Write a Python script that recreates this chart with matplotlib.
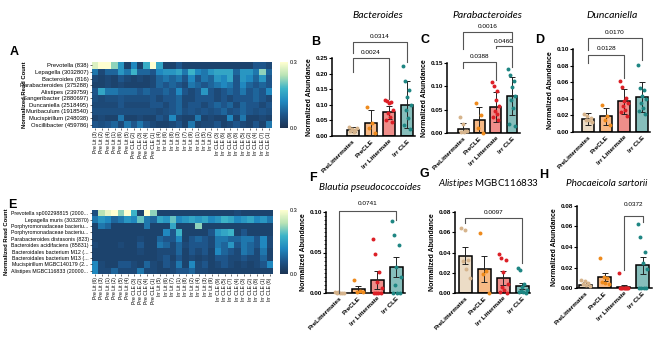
import numpy as np
import matplotlib.pyplot as plt
from matplotlib.colors import LinearSegmentedColormap
from matplotlib.ticker import MultipleLocator, FormatStrFormatter

plt.rcParams['font.family'] = ['Liberation Sans', 'DejaVu Sans']
plt.rcParams['mathtext.fontset'] = 'custom'
plt.rcParams['mathtext.it'] = 'Lato:italic'
plt.rcParams['mathtext.rm'] = 'Lato'

W, H = 669, 340

# ---------------- heatmap data (normalized read count, x100) ----------------
hm1_rows = ["Prevotella (838)", "Lepagella (3032807)", "Bacteroides (816)",
            "Parabacteroides (375288)", "Alistipes (239759)", "Sangeribacter (2880697)",
            "Duncaniella (2518495)", "Muribaculum (1918540)", "Mucispirillum (248038)",
            "Oscillibacter (459786)"]
hm1_cols = ["Pre Lit (3)", "Pre Lit (2)", "Pre Lit (4)", "Pre Lit (1)", "Pre Lit (6)", "Pre Lit (5)",
            "Pre CLE (2)", "Pre CLE (3)", "Pre CLE (4)", "Pre CLE (1)",
            "Irr Lit (4)", "Irr Lit (6)", "Irr Lit (8)", "Irr Lit (3)", "Irr Lit (7)", "Irr Lit (9)",
            "Irr Lit (1)", "Irr Lit (5)", "Irr Lit (2)",
            "Irr CLE (3)", "Irr CLE (6)", "Irr CLE (9)", "Irr CLE (8)", "Irr CLE (5)", "Irr CLE (2)",
            "Irr CLE (4)", "Irr CLE (7)", "Irr CLE (1)"]
hm1_vals = [
    [27, 30, 30, 22, 14, 3, 12, 3, 17, 30, 16, 3, 3, 6, 3, 3, 3, 3, 3, 3, 3, 3, 3, 3, 3, 6, 6, 4],
    [10, 4, 8, 8, 14, 10, 18, 8, 8, 6, 12, 14, 14, 16, 10, 18, 12, 10, 14, 16, 16, 16, 8, 14, 14, 10, 22, 8],
    [4, 3, 4, 3, 6, 4, 3, 4, 3, 4, 8, 10, 8, 10, 6, 12, 6, 10, 8, 14, 12, 16, 6, 14, 12, 8, 14, 6],
    [3, 3, 4, 3, 4, 3, 3, 3, 3, 4, 8, 6, 8, 6, 4, 10, 8, 6, 8, 10, 12, 10, 6, 12, 8, 6, 8, 6],
    [6, 16, 10, 10, 8, 8, 8, 6, 8, 6, 6, 8, 6, 12, 6, 4, 6, 14, 6, 4, 6, 8, 6, 10, 6, 8, 6, 12],
    [5, 4, 5, 5, 6, 5, 5, 5, 5, 6, 4, 6, 6, 8, 4, 4, 6, 6, 6, 4, 6, 4, 6, 6, 6, 8, 6, 4],
    [4, 4, 4, 4, 6, 4, 4, 4, 4, 6, 6, 4, 6, 8, 4, 6, 6, 4, 6, 8, 6, 8, 4, 8, 6, 6, 4, 6],
    [5, 5, 5, 5, 5, 5, 5, 5, 5, 5, 4, 5, 6, 8, 5, 6, 5, 6, 5, 6, 8, 5, 6, 8, 6, 5, 6, 5],
    [3, 4, 3, 3, 10, 3, 3, 4, 3, 3, 6, 4, 12, 4, 3, 3, 10, 3, 4, 3, 3, 12, 3, 10, 3, 3, 4, 3],
    [6, 5, 6, 8, 4, 10, 6, 10, 6, 4, 3, 3, 4, 6, 3, 10, 3, 4, 4, 6, 3, 4, 6, 4, 3, 6, 3, 10],
]

hm2_rows = ["Prevotella sp002298815 (2000...", "Lepagella muris (3032870)",
            "Porphyromonadaceae bacteriu...", "Porphyromonadaceae bacteriu...",
            "Parabacteroides distasonis (823)", "Bacteroides acidifaciens (85831)",
            "Bacteroidales bacterium M12 (...", "Bacteroidales bacterium M13 (...",
            "Mucispirillum MGBC140179 (2...", "Alistipes MGBC116833 (20000..."]
hm2_cols = ["Pre Lit (6)", "Pre Lit (3)", "Pre Lit (1)", "Pre Lit (2)", "Pre Lit (5)", "Pre Lit (4)",
            "Pre CLE (3)", "Pre CLE (2)", "Pre CLE (4)", "Pre CLE (1)",
            "Irr Lit (5)", "Irr Lit (6)", "Irr Lit (7)", "Irr Lit (1)", "Irr Lit (8)", "Irr Lit (2)",
            "Irr Lit (4)", "Irr Lit (3)", "Irr Lit (9)",
            "Irr CLE (9)", "Irr CLE (5)", "Irr CLE (7)", "Irr CLE (4)", "Irr CLE (3)", "Irr CLE (2)",
            "Irr CLE (8)", "Irr CLE (1)", "Irr CLE (6)"]
hm2_vals = [
    [5, 24, 28, 30, 22, 30, 18, 3, 30, 22, 3, 3, 3, 3, 3, 3, 3, 3, 3, 3, 3, 3, 4, 3, 3, 3, 3, 3],
    [10, 14, 12, 8, 10, 14, 12, 20, 10, 8, 16, 14, 20, 12, 14, 16, 14, 16, 12, 14, 18, 16, 12, 14, 16, 12, 14, 10],
    [3, 10, 8, 3, 3, 3, 3, 3, 10, 3, 3, 3, 16, 3, 3, 3, 22, 3, 3, 3, 3, 3, 3, 3, 3, 3, 3, 3],
    [3, 3, 3, 3, 3, 3, 3, 3, 3, 3, 3, 12, 6, 18, 3, 3, 3, 3, 6, 14, 16, 18, 3, 6, 3, 3, 3, 3],
    [3, 3, 3, 3, 3, 3, 3, 4, 3, 3, 8, 6, 6, 12, 3, 6, 8, 6, 4, 10, 10, 8, 8, 10, 10, 6, 12, 4],
    [4, 3, 3, 3, 4, 3, 3, 6, 3, 3, 10, 8, 4, 8, 4, 6, 6, 6, 4, 10, 8, 14, 6, 10, 8, 6, 12, 4],
    [3, 3, 3, 3, 3, 3, 3, 4, 3, 3, 4, 4, 4, 8, 3, 6, 4, 6, 3, 12, 8, 6, 4, 10, 8, 4, 10, 3],
    [3, 3, 3, 3, 3, 3, 3, 3, 3, 3, 4, 6, 3, 6, 3, 4, 3, 4, 3, 6, 6, 4, 4, 6, 4, 4, 8, 3],
    [12, 4, 3, 3, 6, 6, 4, 3, 8, 4, 3, 6, 4, 10, 3, 12, 4, 6, 3, 4, 6, 4, 3, 4, 3, 4, 6, 12],
    [12, 4, 4, 8, 4, 4, 4, 10, 4, 4, 3, 3, 4, 6, 6, 8, 4, 4, 3, 3, 3, 3, 3, 3, 3, 3, 3, 3],
]

# ---------------- bar panel data ----------------
groups = ["PreLittermates", "PreCLE", "Irr Littermate", "Irr CLE"]

bact_pts = [[0.028, 0.022, 0.018, 0.015, 0.012, 0.025], [0.094, 0.041, 0.025, 0.010],
            [0.116, 0.112, 0.110, 0.106, 0.084, 0.073, 0.060, 0.050, 0.046],
            [0.223, 0.177, 0.148, 0.125, 0.100, 0.084, 0.057, 0.035, 0.021]]
bact_mean = [0.020, 0.043, 0.076, 0.100]
bact_err = [0.008, 0.041, 0.021, 0.075]

para_pts = [[0.034, 0.020, 0.005, 0.003, 0.002, 0.004], [0.064, 0.039, 0.011, 0.001],
            [0.110, 0.101, 0.089, 0.071, 0.057, 0.048, 0.041, 0.034, 0.027],
            [0.137, 0.125, 0.111, 0.099, 0.079, 0.071, 0.054, 0.020, 0.016]]
para_mean = [0.0086, 0.027, 0.056, 0.079]
para_err = [0.012, 0.029, 0.032, 0.040]

dunc_pts = [[0.022, 0.019, 0.017, 0.015, 0.014, 0.012], [0.032, 0.019, 0.014, 0.008],
            [0.061, 0.054, 0.041, 0.037, 0.035, 0.031, 0.027, 0.024, 0.019],
            [0.081, 0.053, 0.050, 0.043, 0.040, 0.035, 0.029, 0.025, 0.022]]
dunc_mean = [0.016, 0.019, 0.037, 0.042]
dunc_err = [0.007, 0.010, 0.015, 0.018]

blau_pts = [[0.001, 0.0008, 0.0005, 0.0005, 0.0003, 0.0002], [0.016, 0.002, 0.001, 0.001],
            [0.067, 0.048, 0.026, 0.014, 0.006, 0.0, 0.0, 0.0, 0.0],
            [0.089, 0.071, 0.059, 0.032, 0.020, 0.010, 0.0, 0.0, 0.0]]
blau_mean = [0.0005, 0.005, 0.016, 0.032]
blau_err = [0.0003, 0.004, 0.011, 0.012]

alis_pts = [[0.064, 0.062, 0.033, 0.032, 0.024, 0.015], [0.059, 0.022, 0.019, 0.0],
            [0.039, 0.035, 0.033, 0.021, 0.009, 0.006, 0.003, 0.001, 0.0],
            [0.025, 0.023, 0.009, 0.006, 0.003, 0.002, 0.001, 0.001, 0.0]]
alis_mean = [0.037, 0.024, 0.015, 0.007]
alis_err = [0.008, 0.013, 0.007, 0.003]

phoc_pts = [[0.0075, 0.0065, 0.005, 0.004, 0.003, 0.0015], [0.029, 0.011, 0.010, 0.006, 0.005, 0.004],
            [0.015, 0.0, 0.0, 0.0, 0.0, 0.0, 0.0, 0.0, 0.0],
            [0.062, 0.050, 0.035, 0.024, 0.019, 0.0, 0.0, 0.0, 0.0]]
phoc_mean = [0.003, 0.011, 0.001, 0.022]
phoc_err = [0.0025, 0.004, 0.002, 0.008]

bar_fill = ["#ecdcc6", "#f7b985", "#ef8e8a", "#86bebb"]
dot_col = ["#d6b48c", "#ee8a1c", "#dc1f26", "#1e8683"]

fig = plt.figure(figsize=(W / 100, H / 100), dpi=100)


def box(x, y, w, h):
    return [x / W, 1 - (y + h) / H, w / W, h / H]


cmap = LinearSegmentedColormap.from_list(
    "hm", ["#1c3352", "#1e558a", "#2088bf", "#3db4c8", "#b9e3b5", "#ffffd0"])


def heatmap(rect, crect, vals, rows, cols, rsize):
    ax = fig.add_axes(box(*rect))
    im = ax.imshow(np.array(vals) / 100, cmap=cmap, vmin=0, vmax=0.3,
                   aspect='auto', interpolation='nearest')
    ax.set_yticks(range(len(rows)))
    ax.set_yticklabels(rows, fontsize=rsize)
    ax.set_xticks(range(len(cols)))
    ax.set_xticklabels(cols, fontsize=3.6, rotation=90)
    ax.tick_params(length=1.5, width=0.4, pad=1)
    for s in ax.spines.values():
        s.set_visible(False)
    cax = fig.add_axes(box(*crect))
    cb = fig.colorbar(im, cax=cax, ticks=[0, 0.3])
    cb.ax.set_yticklabels(["0.0", "0.3"], fontsize=4)
    cb.ax.tick_params(length=0, pad=1)
    cb.outline.set_visible(False)
    return ax


heatmap((92, 62, 180, 66), (280, 62, 8, 66), hm1_vals, hm1_rows, hm1_cols, 4.2)
heatmap((92, 210, 181, 64), (280, 210, 8, 64), hm2_vals, hm2_rows, hm2_cols, 3.8)
fig.text(25 / W, 1 - 95 / H, "Normalized Read Count", rotation=90, fontsize=4.2,
         fontweight='bold', ha='center', va='center')
fig.text(7 / W, 1 - 242 / H, "Normalized Read Count", rotation=90, fontsize=4.2,
         fontweight='bold', ha='center', va='center')


def bar_panel(rect, xlim, ylim, step, pts, mean, err, fmt='%.2f', minor=None):
    ax = fig.add_axes(box(*rect))
    x = np.arange(len(groups))
    ax.bar(x, mean, width=0.66, color=bar_fill, edgecolor='black', linewidth=1.1, zorder=2)
    ax.errorbar(x, mean, yerr=err, fmt='none', ecolor='#222222', elinewidth=0.7,
                capsize=2.2, capthick=0.7, zorder=3)
    for i, p in enumerate(pts):
        n = len(p)
        off = np.linspace(-0.22, 0.22, n) if n > 1 else np.zeros(1)
        off = off[np.argsort(np.arange(n) % 2)]
        ax.scatter(x[i] + off, p, s=8, color=dot_col[i], zorder=4, linewidths=0,
                   clip_on=False)
    ax.set_xlim(*xlim)
    ax.set_ylim(0, ylim)
    ax.yaxis.set_major_locator(MultipleLocator(step))
    ax.yaxis.set_major_formatter(FormatStrFormatter(fmt))
    if minor:
        ax.yaxis.set_minor_locator(MultipleLocator(minor))
        ax.tick_params(axis='y', which='minor', length=1.3, width=0.5)
    ax.set_xticks(x)
    ax.set_xticklabels(groups, rotation=45, ha='right', rotation_mode='anchor',
                       fontsize=4.6, fontweight='bold')
    ax.tick_params(axis='y', labelsize=4.6, length=2, width=0.8, pad=1)
    ax.tick_params(axis='x', length=0, pad=2)
    for lab in ax.get_yticklabels():
        lab.set_fontweight('bold')
    for s in ['top', 'right']:
        ax.spines[s].set_visible(False)
    for s in ['left', 'bottom']:
        ax.spines[s].set_linewidth(1.1)
    ax.set_ylabel("Normalized Abundance", fontsize=5, fontweight='bold', labelpad=2)
    return ax


def bracket(ax, i, j, y, yl, yr, txt, ty):
    ax.plot([i, i, j, j], [yl, y, y, yr], color='#555555', lw=0.8, clip_on=False, zorder=5)
    ax.text((i + j) / 2, ty, txt, ha='center', va='center', fontsize=4.6, clip_on=False)


def title(x, y, parts, size=7.5):
    fig.text(x / W, 1 - y / H, parts, ha='center', va='center', fontsize=size,
             family=['Lato', 'DejaVu Sans'], style='italic')


def letter(x, y, s):
    fig.text(x / W, 1 - y / H, s, ha='center', va='center', fontsize=9, fontweight='bold')


axB = bar_panel((332, 58, 83, 78), (-1.15, 3.45), 0.25, 0.05, bact_pts, bact_mean, bact_err)
bracket(axB, 0, 2, 0.25, 0.205, 0.12, "0.0024", 0.269)
bracket(axB, 0, 3, 0.30, 0.266, 0.237, "0.0314", 0.32)

axC = bar_panel((447, 63, 73, 70), (-1.0, 3.5), 0.15, 0.05, para_pts, para_mean, para_err)
bracket(axC, 0, 2, 0.153, 0.139, 0.113, "0.0388", 0.165)
bracket(axC, 2, 3, 0.187, 0.182, 0.142, "0.0460", 0.197)
bracket(axC, 0, 3, 0.217, 0.18, 0.195, "0.0016", 0.229)

axD = bar_panel((573, 49, 77, 83), (-0.85, 3.45), 0.10, 0.02, dunc_pts, dunc_mean, dunc_err)
bracket(axD, 0, 2, 0.093, 0.083, 0.065, "0.0128", 0.100)
bracket(axD, 0, 3, 0.113, 0.099, 0.087, "0.0170", 0.120)

axF = bar_panel((326, 212, 79, 81), (-0.7, 3.45), 0.10, 0.05, blau_pts, blau_mean, blau_err,
                minor=0.005)
bracket(axF, 0, 3, 0.101, 0.0, 0.09, "0.0741", 0.111)

axG = bar_panel((455, 212, 75, 81), (-0.55, 3.4), 0.08, 0.02, alis_pts, alis_mean, alis_err)
bracket(axG, 0, 3, 0.074, 0.069, 0.030, "0.0097", 0.080)

axH = bar_panel((577, 206, 75, 82), (-0.45, 3.5), 0.08, 0.02, phoc_pts, phoc_mean, phoc_err)
bracket(axH, 2, 3, 0.070, 0.0175, 0.064, "0.0372", 0.081)

title(378, 15, "Bacteroides")
title(487, 15, "Parabacteroides")
title(612, 15, "Duncaniella")
title(370, 187, "Blautia pseudococcoides", 7.2)
fig.text(489 / W, 1 - 183 / H, r"$\it{Alistipes}$ MGBC116833", ha='center', va='center',
         fontsize=7.0, family=['Lato', 'DejaVu Sans'])
title(607, 183, "Phocaeicola sartorii", 7.2)

letter(14, 52, "A")
letter(12, 205, "E")
letter(316, 42, "B")
letter(425, 40, "C")
letter(540, 40, "D")
letter(313, 178, "F")
letter(424, 174, "G")
letter(544, 175, "H")

fig.savefig("out.png", dpi=100)
